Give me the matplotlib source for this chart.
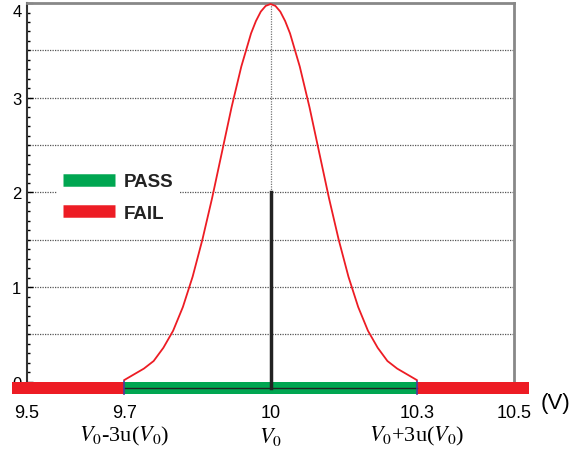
import matplotlib.pyplot as plt
from matplotlib.lines import Line2D
from matplotlib.ticker import MultipleLocator
from matplotlib.transforms import ScaledTranslation

plt.rcParams['font.family'] = ['Liberation Sans', 'DejaVu Sans']
plt.rcParams['mathtext.fontset'] = 'stix'

# curve (V vs. density)
volts = [9.70, 9.72, 9.74, 9.76, 9.78, 9.80, 9.82, 9.84, 9.86, 9.88, 9.90,
         9.92, 9.94, 9.96, 9.97, 9.98, 9.99, 10.00, 10.01, 10.02, 10.03, 10.04,
         10.06, 10.08, 10.10, 10.12, 10.14, 10.16, 10.18, 10.20, 10.22, 10.24,
         10.26, 10.28, 10.30]
density = [0.02, 0.08, 0.14, 0.22, 0.36, 0.54, 0.79, 1.11, 1.50, 1.94, 2.42,
           2.90, 3.33, 3.68, 3.81, 3.91, 3.97, 3.99, 3.97, 3.91, 3.81, 3.68,
           3.33, 2.90, 2.42, 1.94, 1.50, 1.11, 0.79, 0.54, 0.36, 0.22,
           0.14, 0.08, 0.02]

v0 = 10.0
v0_height = 2.0
pass_lo, pass_hi = 9.7, 10.3
fail_lo, fail_hi = 9.47, 10.53
bar_depth = 0.13

xticks = [9.5, 9.7, 10, 10.3, 10.5]
xticklabels = ['9.5', '9.7', '10', '10.3', '10.5']
sublabels = [(9.7, r'$V_0$-3u($V_0$)'), (10.0, r'$V_0$'), (10.3, r'$V_0$+3u($V_0$)')]

red = '#ed1c24'
green = '#00a651'

fig = plt.figure(figsize=(5.75, 4.52), dpi=100)
ax = fig.add_axes([0.047, 0.153, 0.847, 0.838])

# grid
for y in [0.5, 1, 1.5, 2, 2.5, 3, 3.5]:
    ax.axhline(y, color='#555555', lw=0.9, ls=(0, (1, 1)), zorder=1)
ax.axvline(v0, color='#777777', lw=0.9, ls=(0, (1, 1)), zorder=1)

# pass / fail bars under the axis
ax.fill_between([fail_lo, fail_hi], -bar_depth, 0, color=red, lw=0, clip_on=False, zorder=3)
ax.fill_between([pass_lo, pass_hi], -bar_depth, 0, color=green, lw=0, clip_on=False, zorder=4)
ax.plot([pass_lo, pass_hi], [-bar_depth / 2] * 2, color='#222222', lw=1, clip_on=False, zorder=5)
for x in [pass_lo, pass_hi]:
    ax.plot([x, x], [-bar_depth, 0.01], color='#4b3b9b', lw=1.2, clip_on=False, zorder=6)

ax.plot([v0, v0], [-bar_depth / 2, v0_height], color='#222222', lw=2.5, clip_on=False, zorder=6)
ax.plot(volts, density, color=red, lw=1.3, zorder=7)

ax.set_xlim(9.5, 10.5)
ax.set_ylim(0, 4)
ax.set_yticks([0, 1, 2, 3, 4])
ax.yaxis.set_minor_locator(MultipleLocator(0.1))
ax.tick_params(axis='y', direction='in', length=4, width=1, labelsize=12, pad=4)
ax.tick_params(axis='y', which='minor', direction='in', length=2, width=1)
ax.set_xticks(xticks)
ax.set_xticklabels(xticklabels)
ax.tick_params(axis='x', length=0, labelsize=13, pad=16)

# top label sits a little below its tick, as in the original
top_lab = ax.get_yticklabels()[-1]
top_lab.set_transform(top_lab.get_transform() + ScaledTranslation(0, -7 / 100, fig.dpi_scale_trans))

ax.spines['bottom'].set_visible(False)
ax.spines['left'].set_color('#333333')
ax.spines['left'].set_linewidth(1.5)
for s in ['top', 'right']:
    ax.spines[s].set_color('#888888')
    ax.spines[s].set_linewidth(2)

for x, lab in sublabels:
    ax.text(x, -0.57, lab, ha='center', va='center', fontsize=16,
            family='Liberation Serif', clip_on=False)
ax.text(10.555, -0.22, '(V)', ha='left', va='center', fontsize=16, clip_on=False)

handles = [Line2D([], [], color=green, lw=9, solid_capstyle='butt'),
           Line2D([], [], color=red, lw=9, solid_capstyle='butt')]
leg = ax.legend(handles, ['PASS', 'FAIL'], loc='upper left',
                bbox_to_anchor=(0.043, 0.59), frameon=True, facecolor='white',
                edgecolor='none', framealpha=1, fontsize=13.5, handlelength=2.8,
                handletextpad=0.45, labelspacing=0.75, borderpad=0.3)
for t in leg.get_texts():
    t.set_fontweight('bold')
    t.set_color('#222222')

fig.savefig('out.png', dpi=100)
